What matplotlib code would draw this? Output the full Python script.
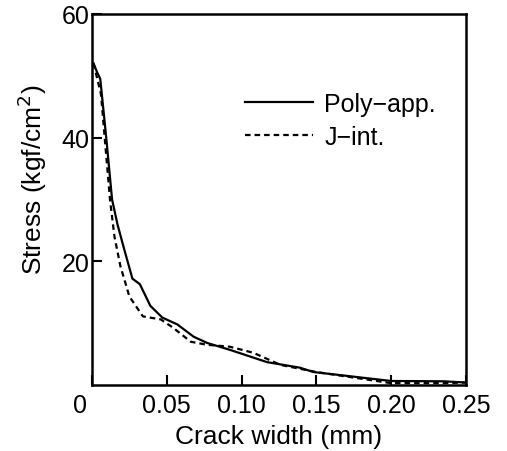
import matplotlib
matplotlib.use("Agg")
import matplotlib.pyplot as plt
from matplotlib import transforms

plt.rcParams['font.family'] = ['Liberation Sans', 'DejaVu Sans']

# Poly-app. (solid)
poly_w = [0.001, 0.0035, 0.0055, 0.0095, 0.0134, 0.017, 0.021, 0.027, 0.032,
          0.039, 0.047, 0.057, 0.068, 0.077, 0.092, 0.117, 0.139, 0.148, 0.200,
          0.235, 0.250]
poly_s = [52, 50.5, 49.5, 40, 30, 26, 22.4, 17.2, 16.3,
          12.8, 10.9, 9.8, 7.8, 6.8, 5.7, 3.7, 2.8, 2.1, 0.65,
          0.6, 0.4]

# J-int. (dashed)
jint_w = [0.001, 0.006, 0.012, 0.015, 0.019, 0.025, 0.034, 0.046, 0.054, 0.066,
          0.077, 0.092, 0.108, 0.126, 0.150, 0.200, 0.235, 0.250]
jint_s = [52, 47, 30, 24, 19.2, 14.3, 11.1, 10.6, 9.3, 7.0,
          6.5, 6.2, 5.2, 3.25, 2.1, 0.3, 0.3, 0.4]

xticks = [0, 0.05, 0.10, 0.15, 0.20, 0.25]
xlabels = ['0', '0.05', '0.10', '0.15', '0.20', '0.25']
yticks = [20, 40, 60]

fig = plt.figure(figsize=(5.07, 4.52), dpi=100)
ax = fig.add_axes([0.1815, 0.146, 0.7375, 0.821])

ax.plot(poly_w, poly_s, color='black', lw=1.6, label='Poly\u2212app.')
ax.plot(jint_w, jint_s, color='black', lw=1.6, ls=(0, (2.5, 1.8)), label='J\u2212int.')

ax.set_xlim(0, 0.25)
ax.set_ylim(0, 60)
ax.set_xticks(xticks)
ax.set_xticklabels(xlabels)
ax.set_yticks(yticks)
ax.tick_params(direction='in', length=7, width=1.5, labelsize=18)
ax.tick_params(axis='x', pad=6)
ax.tick_params(axis='y', pad=2)
for sp in ax.spines.values():
    sp.set_linewidth(1.8)

# origin label sits left of the spine
lbl0 = ax.get_xticklabels()[0]
lbl0.set_transform(lbl0.get_transform() +
                   transforms.ScaledTranslation(-12 / 100, 0, fig.dpi_scale_trans))

ax.set_xlabel('Crack width (mm)', fontsize=19, labelpad=5)
ax.set_ylabel('Stress (kgf/cm$^2$)', fontsize=19)
ax.yaxis.set_label_coords(-0.115, 0.555)

ax.legend(loc='upper left', bbox_to_anchor=(0.41, 0.79), frameon=False,
          fontsize=18, handlelength=2.7, handletextpad=0.45, labelspacing=0.35,
          borderpad=0, borderaxespad=0)

fig.savefig('out.png', dpi=100)
